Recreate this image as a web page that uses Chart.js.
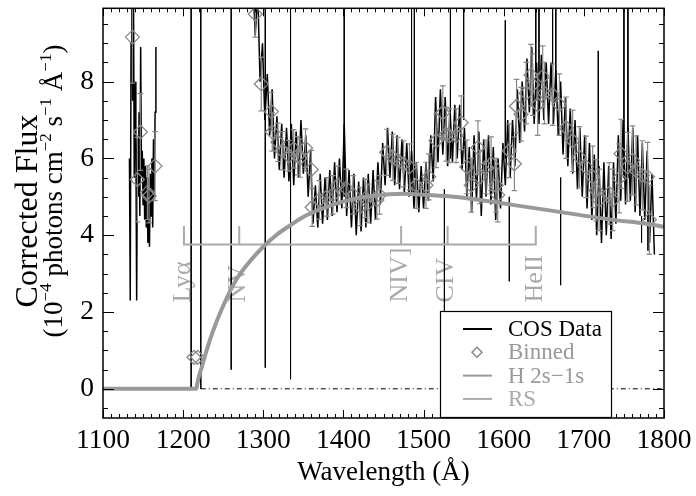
<!DOCTYPE html>
<html>
<head>
<meta charset="utf-8">
<script src="https://cdn.jsdelivr.net/npm/chart.js@4.4.1/dist/chart.umd.min.js"></script>
<style>
  html, body { margin: 0; padding: 0; background: #fff; }
  #wrap { width: 696px; height: 496px; }
</style>
</head>
<body>
<div id="wrap"><canvas id="chart" width="696" height="496"></canvas></div>
<script>
// COS spectrum, short-wavelength piece
const cosWave1 = [1133, 1134, 1135, 1136, 1137, 1138, 1139, 1140, 1141, 1142, 1143, 1144, 1145, 1146, 1147, 1148, 1149,
  1150, 1151, 1152, 1153, 1154, 1155, 1156, 1157, 1158, 1159, 1160, 1161, 1162, 1163, 1164, 1165, 1166];
const cosFlux1 = [6.0, 2.3, 9.0, 10.5, 7.5, 10.5, 5.5, 8.0, 6.5, 2.3, 6.5, 5.0, 7.2, 4.5, 8.9, 5.5, 6.2,
  4.8, 6.0, 4.4, 5.8, 4.2, 5.5, 3.8, 5.2, 3.7, 5.6, 4.5, 6.0, 4.2, 6.5, 5.0, 7.2, 8.9];

// COS spectrum, main piece
const cosWave2 = [1287, 1290, 1293, 1296, 1299, 1302, 1305, 1308, 1311, 1314, 1317, 1320, 1323, 1326, 1329, 1332, 1335, 1338,
  1341, 1344, 1347, 1350, 1353, 1356, 1359, 1362, 1365, 1368, 1371, 1374, 1377, 1380, 1383, 1386, 1389, 1392, 1395, 1398,
  1401, 1404, 1407, 1410, 1413, 1416, 1419, 1422, 1425, 1428, 1431, 1434, 1437, 1440, 1443, 1446, 1449, 1452, 1455, 1458,
  1461, 1464, 1467, 1470, 1473, 1476, 1479, 1482, 1485, 1488, 1491, 1494, 1497, 1500, 1503, 1506, 1509, 1512, 1515, 1518,
  1521, 1524, 1527, 1530, 1533, 1536, 1539, 1542, 1545, 1548, 1551, 1554, 1557, 1560, 1563, 1566, 1569, 1572, 1575, 1578,
  1581, 1584, 1587, 1590, 1593, 1596, 1599, 1602, 1605, 1608, 1611, 1614, 1617, 1620, 1623, 1626, 1629, 1632, 1635, 1638,
  1641, 1644, 1647, 1650, 1653, 1656, 1659, 1662, 1665, 1668, 1671, 1674, 1677, 1680, 1683, 1686, 1689, 1692, 1695, 1698,
  1701, 1704, 1707, 1710, 1713, 1716, 1719, 1722, 1725, 1728, 1731, 1734, 1737, 1740, 1743, 1746, 1749, 1752, 1755, 1758,
  1761, 1764, 1767, 1770, 1773, 1776, 1779, 1782, 1785, 1788];
const cosFlux2 = [10.6, 9.2, 10.4, 8.0, 9.0, 7.0, 8.2, 6.6, 7.8, 6.0, 7.1, 5.7, 6.9, 5.5, 6.8, 5.4, 6.9, 5.3,
  6.7, 5.5, 7.0, 5.6, 6.6, 5.0, 6.2, 4.3, 5.3, 4.2, 5.6, 4.3, 5.5, 4.4, 5.7, 4.5, 5.9, 4.6, 6.0, 4.7,
  6.9, 4.5, 5.7, 4.2, 5.6, 4.0, 5.4, 4.1, 5.5, 4.2, 5.6, 4.3, 5.7, 4.4, 5.9, 4.8, 6.4, 5.3, 6.8, 5.5,
  6.7, 5.3, 6.6, 5.2, 6.5, 5.1, 6.4, 5.0, 6.2, 4.7, 5.9, 4.6, 5.8, 4.7, 5.9, 4.9, 6.6, 5.4, 7.6, 5.9,
  7.8, 6.1, 7.6, 5.8, 7.3, 5.9, 7.4, 6.0, 7.4, 5.7, 6.8, 5.0, 6.3, 4.6, 6.6, 4.9, 6.7, 4.5, 6.5, 5.0,
  6.6, 4.8, 6.3, 4.4, 6.0, 4.7, 6.4, 5.3, 7.0, 5.5, 7.0, 5.8, 7.8, 6.4, 8.0, 6.7, 8.6, 7.2, 8.9, 6.9,
  8.5, 6.9, 8.7, 7.0, 8.5, 6.9, 8.5, 6.9, 8.3, 6.6, 8.0, 6.1, 7.6, 5.8, 7.3, 5.6, 7.0, 5.2, 6.8, 5.0,
  6.6, 4.7, 6.4, 4.4, 6.1, 4.0, 5.8, 3.8, 5.9, 4.0, 5.8, 3.9, 5.9, 4.3, 6.6, 4.9, 7.0, 4.8, 6.8, 4.9,
  6.8, 4.6, 6.6, 4.5, 6.4, 4.4, 6.2, 3.8, 5.6, 3.5];

// narrow spikes / masked pixels in the COS data
const spikeWave   = [1210, 1222, 1260, 1302.5, 1334, 1401, 1485, 1488.5, 1526, 1533.5, 1550, 1602, 1607, 1640, 1644, 1661, 1665, 1671, 1718, 1750, 1755, 1772, 1780];
const spikeTop    = [10.5, 10.5, 10.5, 10.5, 10.5, 10.5, 10.5, 10.5, 5.2, 10.5, 10.5, 9.6, 5.0, 10.5, 10.5, 10.5, 10.5, 5.5, 8.8, 10.5, 10.5, 4.5, 5.0];
const spikeBottom = [0.0, 0.0, 0.5, 0.55, 0.25, 5.0, 5.1, 5.5, 0.0, 6.0, 7.0, 6.0, 2.8, 7.5, 7.5, 7.5, 7.5, 2.7, 5.5, 5.5, 5.5, 3.8, 3.6];

// binned points
const binWave = [1136.7, 1142.9, 1146.6, 1155.4, 1157.4, 1164.8, 1213.5, 1218.0,
  1290.0, 1297.5, 1310.0, 1311.2, 1318.2, 1323.7, 1332.0, 1338.0, 1343.0, 1346.0, 1352.7, 1359.8, 1361.0,
  1370.0, 1379.3, 1386.8, 1393.0, 1403.5, 1412.0, 1421.0, 1427.6, 1430.5, 1441.7, 1445.0,
  1454.0, 1461.6, 1467.8, 1475.0, 1482.4, 1490.8, 1503.0, 1506.5, 1515.7, 1524.0, 1528.2, 1532.3,
  1540.6, 1547.0, 1554.0, 1559.5, 1567.8, 1570.0, 1578.0, 1584.3, 1590.5, 1592.5,
  1607.0, 1613.3, 1616.0, 1621.7, 1628.0, 1634.0, 1636.0, 1642.4, 1648.6, 1650.8, 1661.0, 1669.5,
  1677.8, 1686.0, 1694.4, 1702.7, 1711.0, 1715.0, 1719.0, 1731.7, 1736.0,
  1744.0, 1746.4, 1754.6, 1760.8, 1765.0, 1773.0, 1779.5, 1781.7];
const binFlux = [9.16, 5.45, 6.69, 5.11, 5.02, 5.80, 0.82, 0.82,
  9.76, 7.94, 7.22, 6.69, 6.42, 6.20, 6.07, 6.25, 6.07, 6.01, 6.27, 5.71, 4.73,
  4.92, 5.00, 5.05, 5.30, 5.22, 5.05, 4.75, 4.96, 4.83, 4.92, 5.05,
  6.16, 6.03, 5.95, 5.86, 5.78, 5.30, 5.30, 5.52, 6.46, 7.19, 6.63, 6.59,
  6.59, 6.93, 5.78, 5.30, 6.28, 5.52, 5.78, 5.86, 5.30, 5.05,
  6.20, 5.86, 7.36, 7.15, 7.70, 8.17, 7.92, 7.40, 8.13, 7.70, 7.66, 7.40,
  6.80, 6.46, 6.03, 5.78, 5.52, 5.17, 4.92, 5.09, 4.92,
  5.48, 6.12, 5.78, 5.95, 5.69, 5.56, 5.52, 4.40];
const binErr = [1.2, 1.1, 1.0, 0.7, 0.7, 0.9, 0.0, 0.0,
  0.6, 0.7, 0.5, 0.5, 0.5, 0.5, 0.4, 0.5, 0.5, 0.5, 0.5, 0.5, 0.5,
  0.5, 0.5, 0.5, 0.5, 0.5, 0.5, 0.5, 0.5, 0.5, 0.5, 0.5,
  0.6, 0.6, 0.6, 0.6, 0.6, 0.6, 0.6, 0.6, 0.7, 0.7, 0.7, 0.7,
  0.7, 0.7, 0.7, 0.7, 0.7, 0.7, 0.7, 0.7, 0.7, 0.7,
  0.7, 0.7, 0.7, 0.7, 0.8, 0.8, 0.8, 0.8, 0.8, 0.8, 0.8, 0.8,
  0.8, 0.8, 0.8, 0.8, 0.8, 0.8, 0.8, 0.8, 0.8,
  0.9, 0.9, 0.9, 0.9, 0.9, 0.9, 0.9, 0.9];

// H 2s-1s two-photon continuum
const h2sWave = [1100, 1216, 1219, 1223, 1230, 1237, 1247, 1258, 1268, 1279, 1290, 1300, 1316, 1333, 1352, 1374, 1395,
  1416, 1437, 1457, 1475, 1490, 1528, 1570, 1611, 1653, 1694, 1736, 1778, 1800];
const h2sFlux = [0, 0, 0.27, 0.55, 1.05, 1.49, 2.02, 2.52, 2.90, 3.21, 3.48, 3.70, 4.00, 4.25, 4.50, 4.70, 4.85,
  4.96, 5.03, 5.07, 5.08, 5.07, 5.02, 4.92, 4.79, 4.66, 4.53, 4.40, 4.30, 4.22];

// line identification bracket (RS)
const rsWave = [1201, 1270, 1472, 1530, 1640];
const rsLabels = ['Lyα', 'NV', 'NIV]', 'CIV', 'HeII'];
const rsLevel = 3.76;
const rsTickTop = 4.24;
const rsLabelStart = 2.25;

// zero level
const zeroWave = [1222, 1800];

const xTicks = [1100, 1200, 1300, 1400, 1500, 1600, 1700, 1800];
const yTicks = [0, 2, 4, 6, 8];

const SERIF = "'Liberation Serif', 'Times New Roman', serif";
const BLACK = '#000';
const BIN_GRAY = '#888';
const CURVE_GRAY = '#999';
const RS_GRAY = '#aaa';

// build point lists
const cosPoints = [];
cosWave1.forEach((w, i) => cosPoints.push({ x: w, y: cosFlux1[i] }));
cosPoints.push({ x: 1200, y: null });
cosWave2.forEach((w, i) => cosPoints.push({ x: w, y: cosFlux2[i] }));

const spikePoints = [];
spikeWave.forEach((w, i) => {
    spikePoints.push({ x: w, y: spikeTop[i] }, { x: w, y: spikeBottom[i] }, { x: w, y: null });
});

const binPoints = binWave.map((w, i) => ({ x: w, y: binFlux[i] }));

const capHalf = 3.5;
const errPoints = [];
binWave.forEach((w, i) => {
    const e = binErr[i];
    if (!e) return;
    const lo = binFlux[i] - e, hi = binFlux[i] + e;
    errPoints.push({ x: w, y: lo }, { x: w, y: hi }, { x: w, y: null });
    errPoints.push({ x: w - capHalf, y: hi }, { x: w + capHalf, y: hi }, { x: w, y: null });
    errPoints.push({ x: w - capHalf, y: lo }, { x: w + capHalf, y: lo }, { x: w, y: null });
});

const h2sPoints = h2sWave.map((w, i) => ({ x: w, y: h2sFlux[i] }));

const rsPoints = [
    { x: rsWave[0], y: rsTickTop }, { x: rsWave[0], y: rsLevel },
    { x: rsWave[rsWave.length - 1], y: rsLevel }, { x: rsWave[rsWave.length - 1], y: rsTickTop },
    { x: rsWave[0], y: null }
];
rsWave.slice(1, -1).forEach(w => {
    rsPoints.push({ x: w, y: rsLevel }, { x: w, y: rsTickTop }, { x: w, y: null });
});

const zeroPoints = zeroWave.map(w => ({ x: w, y: 0 }));

// frame, inward ticks, titles, legend, line labels
const decorations = {
    id: 'decorations',
    beforeDatasetsDraw(chart) {
        const { ctx, scales: { x, y } } = chart;
        ctx.save();
        ctx.fillStyle = RS_GRAY;
        ctx.font = '26px ' + SERIF;
        ctx.textAlign = 'left';
        ctx.textBaseline = 'middle';
        rsWave.forEach((w, i) => {
            ctx.save();
            ctx.translate(x.getPixelForValue(w) - 1, y.getPixelForValue(rsLabelStart));
            ctx.rotate(-Math.PI / 2);
            ctx.fillText(rsLabels[i], 0, 0);
            ctx.restore();
        });
        ctx.restore();
    },
    afterDraw(chart) {
        const { ctx, chartArea: a, scales: { x, y } } = chart;
        ctx.save();

        // frame
        ctx.strokeStyle = BLACK;
        ctx.lineWidth = 1.5;
        ctx.strokeRect(a.left, a.top, a.right - a.left, a.bottom - a.top);

        // ticks pointing inward
        ctx.lineWidth = 1;
        ctx.beginPath();
        for (let v = 1100; v <= 1800; v += 10) {
            const px = Math.round(x.getPixelForValue(v)) + 0.5;
            const len = v % 100 === 0 ? 8 : 4;
            ctx.moveTo(px, a.bottom); ctx.lineTo(px, a.bottom - len);
            ctx.moveTo(px, a.top); ctx.lineTo(px, a.top + len);
        }
        for (let k = -1; k <= 19; k++) {
            const v = k * 0.5;
            const py = Math.round(y.getPixelForValue(v)) + 0.5;
            if (py < a.top || py > a.bottom) continue;
            const len = k % 4 === 0 ? 11 : 5;
            ctx.moveTo(a.left, py); ctx.lineTo(a.left + len, py);
            ctx.moveTo(a.right, py); ctx.lineTo(a.right - len, py);
        }
        ctx.stroke();

        // x title
        ctx.fillStyle = BLACK;
        ctx.font = '27px ' + SERIF;
        ctx.textAlign = 'center';
        ctx.textBaseline = 'alphabetic';
        ctx.fillText('Wavelength (Å)', (a.left + a.right) / 2, 480);

        // y title, two lines with superscripts
        drawRotated(ctx, [{ t: 'Corrected Flux' }], 37, 211, 32);
        drawRotated(ctx, [
            { t: '(10' }, { t: '−4', sup: true }, { t: ' photons cm' }, { t: '−2', sup: true },
            { t: ' s' }, { t: '−1', sup: true }, { t: ' Å' }, { t: '−1', sup: true }, { t: ')' }
        ], 62, 191, 27);

        // legend
        const lx = 440, ly = 311, lw = 171, lh = 107;
        ctx.fillStyle = '#fff';
        ctx.fillRect(lx, ly, lw, lh);
        ctx.strokeStyle = BLACK;
        ctx.lineWidth = 1.2;
        ctx.strokeRect(lx + 0.5, ly + 0.5, lw, lh - 1);

        const rows = [
            { label: 'COS Data', color: BLACK, text: BLACK, kind: 'line', w: 2 },
            { label: 'Binned', color: BIN_GRAY, text: CURVE_GRAY, kind: 'diamond' },
            { label: 'H 2s−1s', color: CURVE_GRAY, text: CURVE_GRAY, kind: 'line', w: 2 },
            { label: 'RS', color: RS_GRAY, text: RS_GRAY, kind: 'line', w: 2 }
        ];
        ctx.font = '23px ' + SERIF;
        ctx.textAlign = 'left';
        ctx.textBaseline = 'middle';
        rows.forEach((r, i) => {
            const cy = 329 + i * 23.3;
            ctx.strokeStyle = r.color;
            if (r.kind === 'line') {
                ctx.lineWidth = r.w;
                ctx.beginPath();
                ctx.moveTo(463, cy); ctx.lineTo(492, cy);
                ctx.stroke();
            } else {
                ctx.lineWidth = 1.5;
                ctx.beginPath();
                ctx.moveTo(477, cy - 5); ctx.lineTo(482, cy); ctx.lineTo(477, cy + 5); ctx.lineTo(472, cy);
                ctx.closePath();
                ctx.stroke();
            }
            ctx.fillStyle = r.text;
            ctx.fillText(r.label, 508, cy + 1);
        });

        ctx.restore();
    }
};

function drawRotated(ctx, parts, cx, cy, size) {
    const supSize = Math.round(size * 0.62);
    ctx.save();
    ctx.translate(cx, cy);
    ctx.rotate(-Math.PI / 2);
    ctx.fillStyle = BLACK;
    ctx.textAlign = 'left';
    ctx.textBaseline = 'alphabetic';
    let total = 0;
    parts.forEach(p => {
        ctx.font = (p.sup ? supSize : size) + 'px ' + SERIF;
        p.w = ctx.measureText(p.t).width;
        total += p.w;
    });
    let pos = -total / 2;
    parts.forEach(p => {
        ctx.font = (p.sup ? supSize : size) + 'px ' + SERIF;
        ctx.fillText(p.t, pos, p.sup ? -size * 0.42 : 0);
        pos += p.w;
    });
    ctx.restore();
}

new Chart(document.getElementById('chart'), {
    type: 'scatter',
    data: {
        datasets: [
            {
                label: 'H 2s-1s', data: h2sPoints, showLine: true, order: 0, clip: 0,
                borderColor: CURVE_GRAY, borderWidth: 4, pointRadius: 0,
                cubicInterpolationMode: 'monotone'
            },
            {
                label: 'RS', data: rsPoints, showLine: true, order: 1, clip: 0,
                borderColor: RS_GRAY, borderWidth: 2, pointRadius: 0, spanGaps: false
            },
            {
                label: 'Binned', data: binPoints, showLine: false, order: 2, clip: 0,
                pointStyle: 'rectRot', pointRadius: 7, pointBorderWidth: 1.3,
                borderColor: BIN_GRAY, backgroundColor: 'rgba(0,0,0,0)'
            },
            {
                label: 'Binned errors', data: errPoints, showLine: true, order: 3, clip: 0,
                borderColor: BIN_GRAY, borderWidth: 1.2, pointRadius: 0, spanGaps: false
            },
            {
                label: 'COS Data', data: cosPoints, showLine: true, order: 4, clip: 0,
                borderColor: BLACK, borderWidth: 1.5, pointRadius: 0, spanGaps: false
            },
            {
                label: 'spikes', data: spikePoints, showLine: true, order: 5, clip: 0,
                borderColor: BLACK, borderWidth: 1, pointRadius: 0, spanGaps: false
            },
            {
                label: 'zero', data: zeroPoints, showLine: true, order: 6, clip: 0,
                borderColor: BLACK, borderWidth: 1, borderDash: [5, 3, 1, 3], pointRadius: 0
            }
        ]
    },
    options: {
        responsive: false,
        animation: false,
        devicePixelRatio: 1,
        layout: { padding: { top: 3, right: 32, left: 0, bottom: 0 } },
        plugins: { legend: { display: false }, tooltip: { enabled: false } },
        scales: {
            x: {
                type: 'linear', min: 1100, max: 1800,
                afterBuildTicks: s => { s.ticks = xTicks.map(v => ({ value: v })); },
                afterFit: s => { s.height = 78; s.paddingLeft = 0; s.paddingRight = 0; },
                grid: { display: false, drawTicks: false },
                border: { display: false },
                ticks: {
                    font: { family: SERIF, size: 27.5 }, color: BLACK, padding: 6, maxRotation: 0, autoSkip: false,
                    callback: v => String(v)
                }
            },
            y: {
                type: 'linear', min: -0.76, max: 9.91,
                afterBuildTicks: s => { s.ticks = yTicks.map(v => ({ value: v })); },
                afterFit: s => { s.width = 103; s.paddingTop = 0; s.paddingBottom = 0; },
                grid: { display: false, drawTicks: false },
                border: { display: false },
                ticks: {
                    font: { family: SERIF, size: 27.5 }, color: BLACK, padding: 9, autoSkip: false,
                    callback: v => String(v)
                }
            }
        }
    },
    plugins: [decorations]
});
</script>
</body>
</html>
